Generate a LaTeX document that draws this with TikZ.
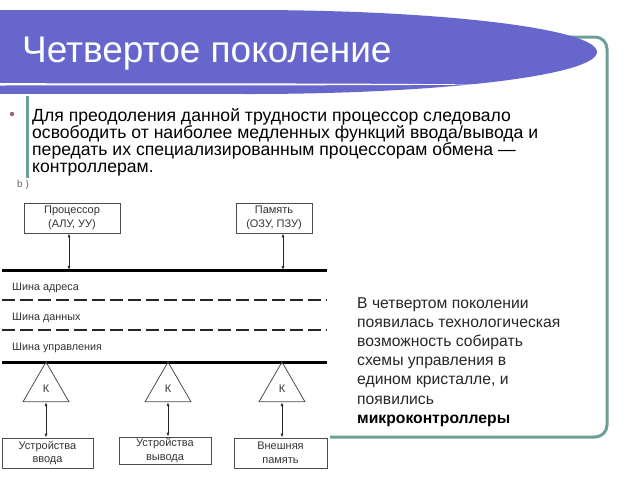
\documentclass[tikz,border=0pt]{standalone}
\usepackage{fontspec}
\setmainfont{Liberation Sans}
\usetikzlibrary{arrows.meta,shapes.geometric}
\definecolor{banner}{HTML}{6666CC}
\definecolor{framec}{HTML}{6E9E98}
\definecolor{dgray}{HTML}{333333}
\definecolor{bulletc}{HTML}{9E6070}
\tikzset{
  box/.style={draw=black!70, line width=0.8pt, align=center, inner sep=0pt,
    font=\fontsize{11}{13.5}\selectfont, text=dgray},
  tri/.style={draw=black!70, line width=0.8pt, regular polygon, regular polygon sides=3,
    minimum size=53pt, inner sep=0pt, font=\fontsize{11}{12}\selectfont, text=dgray},
  dbl/.style={{Latex[length=4pt,width=3pt]}-{Latex[length=4pt,width=3pt]}, line width=0.8pt, draw=black!85},
  busline/.style={line width=3pt, draw=black},
  dashbus/.style={line width=2pt, draw=black!85, dash pattern=on 13pt off 5pt},
  buslabel/.style={anchor=west, inner sep=0pt, font=\fontsize{10.8}{12}\selectfont, text=dgray},
  bodyline/.style={anchor=base west, inner sep=0pt, font=\fontsize{17.6}{18}\selectfont},
  noteline/.style={anchor=base west, inner sep=0pt, font=\fontsize{15.7}{16}\selectfont, text=black!85},
}
\begin{document}
\begin{tikzpicture}[x=1pt,y=-1pt]
\useasboundingbox (0,0) rectangle (640,480);
\begin{scope}
\clip (0,0) rectangle (640,480);
% frame
\draw[framec, line width=3pt, rounded corners=12pt] (560,37) -- (607,37) -- (607,437) -- (330,437);
\draw[framec, line width=3pt] (27,96) -- (27,178);
% banner
\fill[banner] (250,52) ellipse [x radius=347, y radius=42];
\fill[banner] (0,10) rectangle (250,94);
\fill[white] (0,83.2) -- (300,83.5) .. controls (400,83.8) and (450,84.1) .. (478,84.5)
  .. controls (450,84.9) and (400,85.1) .. (300,85.3) -- (0,85.5) -- cycle;
\end{scope}
\node[anchor=base west, inner sep=0pt, text=white, font=\fontsize{37}{40}\selectfont] (title) at (22,62) {Четвертое поколение};

% bullet text
\fill[bulletc] (12,114) circle (2.2);
\node[bodyline] (l1) at (32,121) {Для преодоления данной трудности процессор следовало};
\node[bodyline] (l2) at (32,138) {освободить от наиболее медленных функций ввода/вывода и};
\node[bodyline] (l3) at (32,155) {передать их специализированным процессорам обмена —};
\node[bodyline] (l4) at (32,172) {контроллерам.};

% diagram
\node[anchor=west, inner sep=0pt, font=\fontsize{10}{11}\selectfont, text=black!60] (blab) at (17,185) {b )};
\node[box, minimum width=96pt, minimum height=30pt] (cpu) at (72,218) {Процессор\\(АЛУ, УУ)};
\node[box, minimum width=76pt, minimum height=30pt] (mem) at (274,218) {Память\\(ОЗУ, ПЗУ)};

\coordinate (b1l) at (2,270);  \coordinate (b1r) at (327,270);
\coordinate (b2l) at (2,300);  \coordinate (b2r) at (327,300);
\coordinate (b3l) at (2,330);  \coordinate (b3r) at (327,330);
\coordinate (b4l) at (2,362);  \coordinate (b4r) at (327,362);
\draw[busline] (b1l) -- (b1r);
\draw[dashbus] (b2l) -- (b2r);
\draw[dashbus] (b3l) -- (b3r);
\draw[busline] (b4l) -- (b4r);
\node[buslabel] (la) at (12,288) {Шина адреса};
\node[buslabel] (ld) at (12,318) {Шина данных};
\node[buslabel] (lu) at (12,348) {Шина управления};

\draw[dbl] ([xshift=-3pt]cpu.south) -- ([xshift=-3pt]cpu.south |- b1l);
\draw[dbl] ([xshift=9pt]mem.south) -- ([xshift=9pt]mem.south |- b1l);

\node[tri] (k1) at (46,388.5) {К};
\node[tri] (k2) at (168,388.5) {К};
\node[tri] (k3) at (282,388.5) {К};

\node[box, minimum width=91pt, minimum height=30pt] (inp) at (47.5,453) {Устройства\\ввода};
\node[box, minimum width=92pt, minimum height=27pt] (outd) at (165,450.5) {Устройства\\вывода};
\node[box, minimum width=93pt, minimum height=30pt] (ext) at (280.5,453) {Внешняя\\память};

\draw[dbl] (k1.south) -- (k1.south |- inp.north);
\draw[dbl] (k2.south) -- (k2.south |- outd.north);
\draw[dbl] (k3.south) -- (k3.south |- ext.north);

% note
\node[noteline] (r1) at (357,308) {В четвертом поколении};
\node[noteline] (r2) at (357,327.2) {появилась технологическая};
\node[noteline] (r3) at (357,346.4) {возможность собирать};
\node[noteline] (r4) at (357,365.6) {схемы управления в};
\node[noteline] (r5) at (357,384.8) {едином кристалле, и};
\node[noteline] (r6) at (357,404) {появились};
\node[noteline, font=\fontsize{15.7}{16}\selectfont\bfseries, text=black] (r7) at (357,423.2) {микроконтроллеры};
\end{tikzpicture}
\end{document}
